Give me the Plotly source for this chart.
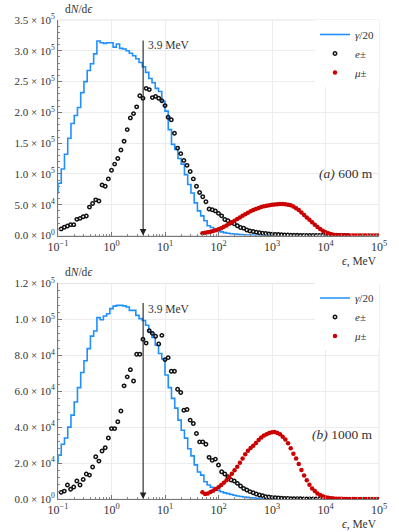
import numpy as np
import plotly.graph_objects as go

# values in units of 1e3 particles per MeV
# gamma/20 histogram, log bins of 6/99 decade, first bin starts one bin left of 0.1 MeV
gamma_a = [69, 85, 108, 132, 158, 182, 195, 208, 232, 250, 268, 279, 295, 316, 313, 312, 313, 313, 306, 311,
           304, 303, 300, 296, 292, 287, 281, 274, 265, 255, 248, 239, 234, 218, 202, 172, 148, 140, 125, 116,
           99, 83, 69, 53, 40, 32, 24, 16, 13, 10, 8, 6, 4.8, 3.8, 3.0, 2.4, 1.9, 1.5, 1.2, 0.9,
           0.7, 0.5, 0.4, 0.3, 0.2, 0.15, 0.1]
gamma_b = [20, 24.4, 30.5, 34, 40, 46.7, 54, 62, 70.4, 77, 83.7, 90.7, 93.5, 101, 99.8, 101.9, 103.1, 106, 107.4, 107.8,
           107.8, 107.5, 106.9, 105, 105, 102.2, 100.4, 99.4, 96.7, 93, 90, 85.6, 81, 78, 69, 62, 56, 50.6, 43.9, 38.3,
           33.9, 28, 24, 19, 15, 13.3, 9.6, 7.8, 6.5, 5.9, 4.8, 4, 3.4, 3.0, 2.5, 2.1, 1.7, 1.4, 1.1, 0.9,
           0.7, 0.55, 0.4, 0.3, 0.2, 0.15, 0.1, 0.07]

# e+- points, 17 per decade starting at 10^(-1+1/17)
e_a = [10.8, 13.4, 15.6, 17.7, 17.7, 26.3, 27.9, 30.6, 31.7, 46.2, 52, 58, 56, 82, 80, 92, 106, 116, 125, 139,
       153, 172, 191, 198, 209, 227, 223, 239, 237, 224, 226, 223, 219, 211, 192, 188, 166, 142, 133, 122,
       114, 104, 92, 80, 70, 63, 55, 43, 42, 40, 36, 32, 26, 24, 21, 19, 16, 13, 12, 9,
       7.5, 6.5, 5.5, 4.6, 3.9, 3.3, 2.8, 2.3, 1.9, 1.6, 1.3, 1.05, 0.85, 0.7, 0.55, 0.45, 0.35, 0.28, 0.22, 0.17,
       0.13, 0.1, 0.08, 0.06, 0.05, 0.04, 0.03, 0.02, 0.02, 0.01, 0.01, 0.01]
e_b = [3.7, 4.4, 7.8, 5.4, 6.7, 10, 7.8, 10.9, 13.9, 13.3, 17.8, 23.5, 21.1, 26.7, 28.5, 34, 39.2, 39.2, 43, 49,
       63, 68, 72, 65.7, 80.6, 80.6, 88.9, 86.8, 93.7, 92.2, 90.6, 86.3, 91.1, 77.6, 78.7, 71.1, 71.1, 61.1, 59.3, 49.4,
       49.8, 43.9, 42, 36.5, 31.8, 31.8, 30.5, 23.2, 21.5, 22.2, 18.9, 15.2, 13.9, 12.4, 10.6, 10, 8.7, 7.2, 5.9, 5,
       4.1, 3.5, 2.8, 2.2, 1.9, 1.3, 1.1, 0.9, 0.7, 0.55, 0.45, 0.35, 0.28, 0.22, 0.17, 0.13, 0.1, 0.08, 0.06, 0.05,
       0.04, 0.03, 0.02, 0.02, 0.01, 0.01, 0.01]

# mu+- points, 20 per decade from 10^1.7
mu_a = [3.8, 4.5, 5.3, 6.2, 7.5, 8.8, 10.3, 12.0, 14.2, 16.4, 19, 21.5, 24, 27, 29.5, 32, 34.5, 37, 39.3, 41.3,
        43.2, 44.8, 46.2, 47.5, 48.5, 49.4, 50.1, 50.6, 51, 51.2, 51.2, 51, 50.2, 49, 47, 44.5, 41.3, 37.5, 33.3, 29.3,
        25.5, 21.5, 17.5, 13.8, 10.5, 7.8, 5.5, 3.7, 2.4, 1.5, 0.9, 0.55, 0.32, 0.18, 0.1, 0.06, 0.03, 0.02, 0.01, 0.01,
        0, 0, 0, 0, 0, 0, 0]
mu_b = [3.7, 2.8, 3.1, 3.9, 4.6, 5.5, 6.5, 7.8, 9.0, 10.5, 12.2, 14.0, 16.0, 17.9, 20.2, 22.6, 24.9, 26.9, 28.4, 29.7,
        31.2, 32.8, 34.2, 35.4, 36.1, 36.7, 37.2, 37.3, 36.8, 36.0, 34.6, 33.1, 31.0, 28.2, 25.2, 22.6, 19.5, 16.1, 13.1, 10.5,
        8.0, 5.9, 4.4, 3.1, 2.2, 1.5, 1.0, 0.7, 0.45, 0.3, 0.2, 0.12, 0.08, 0.05, 0.03, 0.02, 0.01, 0.01, 0, 0,
        0, 0, 0, 0, 0, 0, 0]

x_tickvals = [0.1, 1, 10, 100, 1e3, 1e4, 1e5]
x_ticktext = ["10<sup>−1</sup>", "10<sup>0</sup>", "10<sup>1</sup>", "10<sup>2</sup>",
              "10<sup>3</sup>", "10<sup>4</sup>", "10<sup>5</sup>"]
ya_tickvals = [0, 5e4, 1e5, 1.5e5, 2e5, 2.5e5, 3e5, 3.5e5]
ya_ticktext = ["0.0 × 10<sup>0</sup>", "5.0 × 10<sup>4</sup>", "1.0 × 10<sup>5</sup>", "1.5 × 10<sup>5</sup>",
               "2.0 × 10<sup>5</sup>", "2.5 × 10<sup>5</sup>", "3.0 × 10<sup>5</sup>", "3.5 × 10<sup>5</sup>"]
yb_tickvals = [0, 2e4, 4e4, 6e4, 8e4, 1e5, 1.2e5]
yb_ticktext = ["0.0 × 10<sup>0</sup>", "2.0 × 10<sup>4</sup>", "4.0 × 10<sup>4</sup>", "6.0 × 10<sup>4</sup>",
               "8.0 × 10<sup>4</sup>", "1.0 × 10<sup>5</sup>", "1.2 × 10<sup>5</sup>"]

FONT = "Liberation Serif"
BLUE = "#1e90ff"
RED = "#cc0000"


def gamma_steps(vals):
    dlog = 6 / 99
    edges = 10 ** (-1 - dlog + dlog * np.arange(len(vals) + 1))
    y = [v * 1e3 for v in vals] + [vals[-1] * 1e3]
    return edges, y


def e_x(n):
    return 10 ** (-1 + (np.arange(n) + 1) / 17)


def mu_x(n):
    return 10 ** (1.7 + 0.05 * np.arange(n))


fig = go.Figure()

panels = [("x", "y", "legend", gamma_a, e_a, mu_a), ("x2", "y2", "legend2", gamma_b, e_b, mu_b)]
for xa, ya, leg, g, e, mu in panels:
    gx, gy = gamma_steps(g)
    fig.add_trace(go.Scatter(x=gx, y=gy, mode="lines", line=dict(color=BLUE, width=1.6, shape="hv"),
                             name="<i>γ</i>/20", xaxis=xa, yaxis=ya, legend=leg))
    fig.add_trace(go.Scatter(x=e_x(len(e)), y=[v * 1e3 for v in e], mode="markers",
                             marker=dict(symbol="circle-open", size=3.4, color="#111",
                                         line=dict(width=1.5, color="#111")),
                             name="<i>e</i>±", xaxis=xa, yaxis=ya, legend=leg))
    fig.add_trace(go.Scatter(x=mu_x(len(mu)), y=[v * 1e3 for v in mu], mode="markers",
                             marker=dict(symbol="circle", size=4.5, color=RED),
                             name="<i>μ</i>±", xaxis=xa, yaxis=ya, legend=leg))

xaxis_style = dict(type="log", range=[-1, 5], tickvals=x_tickvals, ticktext=x_ticktext,
                   showgrid=True, gridcolor="#ececec", gridwidth=1, zeroline=False,
                   showline=True, linecolor="#777", linewidth=1,
                   ticks="inside", ticklen=4, tickcolor="#777",
                   minor=dict(dtick="D1", ticks="inside", ticklen=2, tickcolor="#888", showgrid=False),
                   tickfont=dict(family=FONT, size=12, color="#333"))
yaxis_style = dict(showgrid=True, gridcolor="#ececec", gridwidth=1, zeroline=False,
                   showline=True, linecolor="#777", linewidth=1,
                   ticks="inside", ticklen=4, tickcolor="#777",
                   tickfont=dict(family=FONT, size=11, color="#333"))

fig.update_layout(
    width=399, height=532,
    margin=dict(l=58, r=12, t=19, b=33),
    paper_bgcolor="white", plot_bgcolor="white",
    font=dict(family=FONT, size=11, color="#333"),
    xaxis=dict(xaxis_style, anchor="y", domain=[0, 1]),
    yaxis=dict(yaxis_style, anchor="x", domain=[0.55, 1], range=[0, 3.5e5],
               tickvals=ya_tickvals, ticktext=ya_ticktext,
               minor=dict(dtick=1e4, ticks="inside", ticklen=2, tickcolor="#888", showgrid=False)),
    xaxis2=dict(xaxis_style, anchor="y2", domain=[0, 1]),
    yaxis2=dict(yaxis_style, anchor="x2", domain=[0, 0.45], range=[0, 1.2e5],
                tickvals=yb_tickvals, ticktext=yb_ticktext,
                minor=dict(dtick=4e3, ticks="inside", ticklen=2, tickcolor="#888", showgrid=False)),
    legend=dict(x=1, xanchor="right", y=1, yanchor="top", bgcolor="white",
                font=dict(family=FONT, size=11, color="#333"), itemwidth=30, tracegroupgap=0),
    legend2=dict(x=1, xanchor="right", y=0.45, yanchor="top", bgcolor="white",
                 font=dict(family=FONT, size=11, color="#333"), itemwidth=30, tracegroupgap=0),
    showlegend=True,
)

# light frame on top / right
for xa, ya in [("x", "y"), ("x2", "y2")]:
    fig.add_shape(type="rect", xref=f"{xa} domain", yref=f"{ya} domain", x0=0, x1=1, y0=0, y1=1,
                  line=dict(color="#e4e4e4", width=1), layer="below")

e_cut = np.log10(3.9)
annots = [
    # arrows at 3.9 MeV
    dict(x=e_cut, y=0, xref="x", yref="y", ax=e_cut, ay=3.19e5, axref="x", ayref="y", text="",
         showarrow=True, arrowhead=2, arrowsize=1.2, arrowwidth=1.1, arrowcolor="#222"),
    dict(x=e_cut, y=0, xref="x2", yref="y2", ax=e_cut, ay=1.10e5, axref="x2", ayref="y2", text="",
         showarrow=True, arrowhead=2, arrowsize=1.2, arrowwidth=1.1, arrowcolor="#222"),
    dict(x=e_cut, y=3.1e5, xref="x", yref="y", text="3.9 MeV", showarrow=False, xanchor="left", xshift=3,
         font=dict(family=FONT, size=11.5, color="#333")),
    dict(x=e_cut, y=1.06e5, xref="x2", yref="y2", text="3.9 MeV", showarrow=False, xanchor="left", xshift=3,
         font=dict(family=FONT, size=11.5, color="#333")),
    dict(x=0.988, y=1.01e5, xref="x domain", yref="y", text="<i>(a)</i> 600 m", showarrow=False,
         xanchor="right", font=dict(family=FONT, size=13.5, color="#333")),
    dict(x=0.988, y=3.6e4, xref="x2 domain", yref="y2", text="<i>(b)</i> 1000 m", showarrow=False,
         xanchor="right", font=dict(family=FONT, size=13.5, color="#333")),
]
for xa, ya in [("x", "y"), ("x2", "y2")]:
    annots.append(dict(x=0, y=1, xref=f"{xa} domain", yref=f"{ya} domain", text="d<i>N</i>/d<i>ϵ</i>",
                       showarrow=False, xanchor="left", yanchor="bottom", xshift=5, yshift=3,
                       font=dict(family=FONT, size=11.5, color="#333")))
    annots.append(dict(x=1, y=0, xref=f"{xa} domain", yref=f"{ya} domain", text="<i>ϵ</i>, MeV",
                       showarrow=False, xanchor="right", yanchor="top", yshift=-17,
                       font=dict(family=FONT, size=11.5, color="#333")))
fig.update_layout(annotations=annots)

# drop the default page margin so the 399x532 figure fills the window
fig.write_html("out.html", config={"displayModeBar": False},
               post_script="document.body.style.margin='0';")
